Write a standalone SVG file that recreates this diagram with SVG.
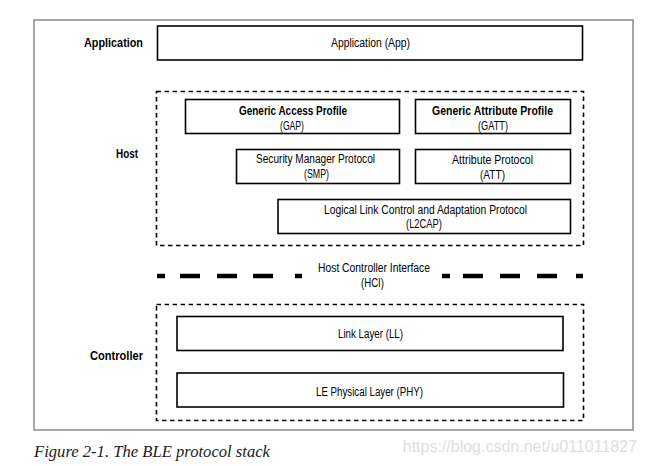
<svg xmlns="http://www.w3.org/2000/svg" width="645" height="466" viewBox="0 0 645 466">
<style>
.frame{fill:none;stroke:#8a8a8a;stroke-width:1.5}
.box{fill:#fff;stroke:#000;stroke-width:1.6}
.dash{fill:none;stroke:#000;stroke-width:1.6;stroke-dasharray:4.5 3.5}
.t{font-family:"Liberation Sans",Arial,sans-serif;font-size:12.5px;fill:#000;text-anchor:middle}
.b{font-weight:bold}
.cap{font-family:"Liberation Serif",serif;font-style:italic;font-size:16.5px;fill:#222}
.wm{font-family:"Liberation Sans",sans-serif;font-size:16px;fill:#dedede}
</style>
<rect width="645" height="466" fill="#fff"/>
<rect class="frame" x="34" y="20" width="599" height="410"/>
<g id="labels">
<text class="t b" x="113.5" y="46.5" textLength="59" lengthAdjust="spacingAndGlyphs">Application</text>
<text class="t b" x="127" y="157.5" textLength="22" lengthAdjust="spacingAndGlyphs">Host</text>
<text class="t b" x="116.5" y="359.5" textLength="53" lengthAdjust="spacingAndGlyphs">Controller</text>
</g>
<g id="app"><rect class="box" x="157.5" y="26" width="425" height="34"/><text class="t" x="370.5" y="47" textLength="79" lengthAdjust="spacingAndGlyphs">Application (App)</text></g>
<g id="host"><rect class="dash" x="156.5" y="91.5" width="427" height="154"/></g>
<g id="gap"><rect class="box" x="185.5" y="99.5" width="214" height="34"/><text class="t b" x="293" y="115" textLength="108" lengthAdjust="spacingAndGlyphs">Generic Access Profile</text><text class="t" x="292" y="129.5" textLength="24" lengthAdjust="spacingAndGlyphs">(GAP)</text></g>
<g id="gatt"><rect class="box" x="415.5" y="99.5" width="155" height="34"/><text class="t b" x="492.5" y="115" textLength="121" lengthAdjust="spacingAndGlyphs">Generic Attribute Profile</text><text class="t" x="493" y="129.5" textLength="30" lengthAdjust="spacingAndGlyphs">(GATT)</text></g>
<g id="smp"><rect class="box" x="236.5" y="149.5" width="163" height="34"/><text class="t" x="315.5" y="163" textLength="119" lengthAdjust="spacingAndGlyphs">Security Manager Protocol</text><text class="t" x="316.5" y="177.5" textLength="25" lengthAdjust="spacingAndGlyphs">(SMP)</text></g>
<g id="att"><rect class="box" x="415.5" y="149.5" width="155" height="34"/><text class="t" x="492.5" y="164" textLength="81" lengthAdjust="spacingAndGlyphs">Attribute Protocol</text><text class="t" x="492.5" y="178.5" textLength="25" lengthAdjust="spacingAndGlyphs">(ATT)</text></g>
<g id="l2cap"><rect class="box" x="278" y="199.5" width="292.5" height="34"/><text class="t" x="425.5" y="213.5" textLength="203" lengthAdjust="spacingAndGlyphs">Logical Link Control and Adaptation Protocol</text><text class="t" x="424" y="228" textLength="36" lengthAdjust="spacingAndGlyphs">(L2CAP)</text></g>
<g id="hci">
<path d="M157 276H165M180 276H200M217 276H237M253 276H273M295 276H302M442 276H450M463 276H483M500 276H520M537 276H557M576 276H583" stroke="#000" stroke-width="4.5" fill="none"/>
<text class="t" x="374" y="272" textLength="112" lengthAdjust="spacingAndGlyphs">Host Controller Interface</text><text class="t" x="372.5" y="287" textLength="23" lengthAdjust="spacingAndGlyphs">(HCI)</text>
</g>
<g id="controller"><rect class="dash" x="156.5" y="304.5" width="427" height="116"/></g>
<g id="ll"><rect class="box" x="177" y="316.5" width="386" height="34"/><text class="t" x="370.5" y="337.5" textLength="65" lengthAdjust="spacingAndGlyphs">Link Layer (LL)</text></g>
<g id="phy"><rect class="box" x="177" y="373" width="386.5" height="34"/><text class="t" x="369.5" y="396" textLength="107" lengthAdjust="spacingAndGlyphs">LE Physical Layer (PHY)</text></g>
<text class="cap" x="34" y="457" textLength="236" lengthAdjust="spacingAndGlyphs">Figure 2-1. The BLE protocol stack</text>
<text class="wm" x="637" y="452" text-anchor="end">https://blog.csdn.net/u011011827</text>
</svg>
